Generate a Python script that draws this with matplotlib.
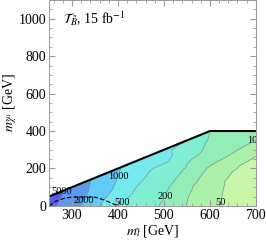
import numpy as np
import matplotlib
matplotlib.use('Agg')
import matplotlib.pyplot as plt
import matplotlib.tri as mtri

plt.rcParams['font.family'] = ['Liberation Serif', 'DejaVu Serif']
plt.rcParams['mathtext.fontset'] = 'stix'

# grid (event counts), None = above the kinematic line
m_stop = [250, 300, 350, 400, 450, 500, 550, 600, 650, 700]
m_chi = [0, 50, 100, 150, 200, 250, 300, 350, 400]
counts = [
    [6600, 2800, 1260, 500, 300, 177, 98, 58, 42, 35],
    [8000, 3250, 1470, 700, 360, 205, 104, 59, 43, 36],
    [None, 3500, 1660, 885, 430, 233, 117, 61, 44, 37],
    [None, None, 1800, 1000, 560, 295, 147, 73, 45, 38],
    [None, None, None, 1050, 675, 378, 185, 90, 52, 42],
    [None, None, None, None, 930, 660, 222, 132, 79, 45],
    [None, None, None, None, None, 630, 316, 163, 113, 65],
    [None, None, None, None, None, None, 490, 182, 135, 98],
    [None, None, None, None, None, None, None, 200, 158, 120],
]
levels = [50, 100, 200, 500, 1000, 2000, 5000]
band_colors = ['#caf6aa', '#acf1a8', '#92edb6', '#80eed2', '#74eaee',
               '#62cbf7', '#5a9af0', '#5656ea']

# contour label spots
label_pos = [(285, 80), (322, 27), (404, 155), (400, 20), (491, 53), (695, 352), (617, 20)]

# dashed curve and kinematic boundary
dash_x = [250, 265, 285, 300, 350, 370, 400]
dash_y = [0, 25, 42, 47, 47, 32, 0]
bound_x = [250, 600, 700]
bound_y = [50, 400, 400]

px, py, pz = [], [], []
for j, y in enumerate(m_chi):
    for i, x in enumerate(m_stop):
        if counts[j][i] is not None:
            px.append(x)
            py.append(y)
            pz.append(np.log10(counts[j][i]))
tri = mtri.Triangulation(px, py)

fig = plt.figure(figsize=(2.66, 2.40), dpi=100)
ax = fig.add_axes([0.184, 0.142, 0.778, 0.858])

lv = np.log10(levels)
ax.tricontourf(tri, pz, levels=np.concatenate([[0], lv, [6]]), colors=band_colors)
cs = ax.tricontour(tri, pz, levels=lv, colors='#7f9494', linewidths=0.5)
fmt = {l: str(v) for l, v in zip(cs.levels, levels)}
labels = ax.clabel(cs, fmt=fmt, fontsize=7.5, inline=True, inline_spacing=0,
                   manual=label_pos)
for t in labels:
    t.set_clip_on(True)
    t.set_color('black')
    t.set_rotation(0)

ax.plot(dash_x, dash_y, color='black', lw=0.8, ls=(0, (4, 2)))
ax.plot(bound_x, bound_y, color='black', lw=1.5, solid_capstyle='butt')

ax.set_xlim(250, 700)
ax.set_ylim(0, 1100)
ax.set_xticks([300, 400, 500, 600, 700])
ax.set_yticks([0, 200, 400, 600, 800, 1000])
ax.set_xticks(np.arange(260, 701, 20), minor=True)
ax.set_yticks(np.arange(0, 1101, 50), minor=True)
ax.tick_params(which='both', direction='in', top=True, right=True,
               labelsize=10, color='#999999', pad=2)
ax.tick_params(which='major', length=4)
ax.tick_params(which='minor', length=2)
for s in ax.spines.values():
    s.set_color('#999999')
    s.set_linewidth(0.7)

ax.set_xlabel(r'$m_{\tilde{t}}$ [GeV]', fontsize=10, labelpad=1)
ax.set_ylabel(r'$m_{\tilde{\chi}^0}$ [GeV]', fontsize=10, labelpad=0)
ax.text(280, 1000, r'$\mathcal{T}_{\tilde{B}}$, 15 fb$^{-1}$', fontsize=10, va='center')

fig.savefig('out.png', dpi=100)
